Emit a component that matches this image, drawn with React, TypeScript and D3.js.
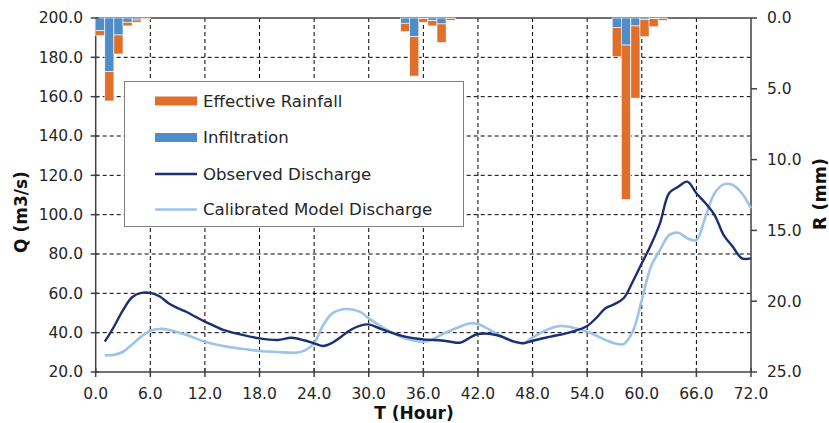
import React from 'react';
import * as d3 from 'd3';

// rainfall bars (hour at bar centre, mm)
const rainHours = [0.5, 1.5, 2.5, 3.5, 4.5, 5.5, 34, 35, 36, 37, 38, 39, 57.25, 58.25, 59.3, 60.3, 61.3, 62.3];
const infiltration = [0.9, 3.79, 1.2, 0.3, 0.14, 0.03, 0.37, 1.32, 0.05, 0.19, 0.42, 0.02, 0.66, 1.91, 0.56, 0.12, 0.05, 0.02];
const effectiveRain = [0.35, 2.07, 1.34, 0.26, 0.16, 0.06, 0.59, 2.78, 0.25, 0.37, 1.31, 0.14, 2.08, 10.9, 5.1, 1.2, 0.57, 0.15];

// observed discharge
const obsHours = [1, 2, 3, 4, 5, 6, 7, 8, 9, 10, 11, 12, 13, 14, 16, 18, 20, 21.5, 23, 24, 25, 26, 27, 28, 29, 30, 31, 32, 34, 36, 38, 39, 40, 42, 44, 46, 47, 48, 50, 52, 54, 55, 56, 57, 58, 59, 60, 61, 62, 63, 64, 65, 66, 67, 68, 69, 70, 71, 72];
const obsQ = [35.4, 43, 51.5, 58, 60.2, 60.2, 58.5, 55, 52.5, 50.5, 48, 45.6, 43.5, 41.4, 39, 37.1, 36.3, 37.4, 36, 34.6, 33.2, 34.9, 38, 41.4, 43.5, 44.2, 42.5, 40.8, 38, 36.6, 36, 35.4, 34.9, 39.3, 38.8, 35.4, 34.6, 35.9, 38, 40, 43.4, 47.5, 52.4, 54.5, 57.5, 65.9, 75.3, 84.6, 95.6, 110.9, 114.2, 116.8, 110.9, 105.8, 99.8, 89.6, 83.7, 77.8, 77.8];

// calibrated model discharge
const calHours = [1, 2, 3, 4, 5, 6, 7, 8, 10, 12, 14, 16, 18, 20, 22, 23, 24, 25, 26, 27.5, 29, 30, 32, 34, 36, 37, 38, 40, 41, 42, 44, 46, 47, 48, 50, 51, 52, 54, 56, 57, 58, 59, 60, 61, 62, 63, 64, 65, 66, 67, 68, 69, 70, 71, 72];
const calQ = [28.6, 28.7, 30.3, 34, 38, 41, 41.9, 41.5, 38.8, 35.4, 33.2, 31.8, 30.7, 30.2, 29.8, 31, 34.6, 43.9, 49.8, 52, 50.7, 47.3, 41.4, 37.1, 35.4, 36.5, 39, 43, 44.7, 44.4, 39.6, 35.4, 34.7, 37.6, 42.2, 43.4, 43, 40.5, 36.3, 34.6, 34.2, 40.5, 56.6, 73.5, 82, 89.6, 90.8, 88, 87.1, 99, 110.9, 115.4, 115.1, 110.9, 103.2];

const xTicks = [0, 6, 12, 18, 24, 30, 36, 42, 48, 54, 60, 66, 72];
const qTicks = [20, 40, 60, 80, 100, 120, 140, 160, 180, 200];
const rTicks = [0, 5, 10, 15, 20, 25];
const legendItems = ['Effective Rainfall', 'Infiltration', 'Observed Discharge', 'Calibrated Model Discharge'];

const ORANGE = '#DF6F2A';
const BLUE = '#4F8DC9';
const OBS = '#1B2F72';
const CAL = '#9CC3E8';
const AXIS = '#404040';
const FONT = 'DejaVu Sans, Verdana, sans-serif';

export default function App() {
  const width = 829, height = 423;
  const left = 95.7, right = 751, top = 18, bottom = 372;

  const x = d3.scaleLinear().domain([0, 72]).range([left, right]);
  const yQ = d3.scaleLinear().domain([20, 200]).range([bottom, top]);
  const yR = d3.scaleLinear().domain([0, 25]).range([top, bottom]);
  const barW = x(1) - x(0);

  const obsLine = d3.line<number>()
    .x((d, i) => x(obsHours[i]))
    .y(d => yQ(d))
    .curve(d3.curveCatmullRom.alpha(0.5));
  const calLine = d3.line<number>()
    .x((d, i) => x(calHours[i]))
    .y(d => yQ(d))
    .curve(d3.curveCatmullRom.alpha(0.5));

  const gridStyle = { stroke: '#000', strokeWidth: 1, strokeDasharray: '4,3' };

  let bars: any[] = [];
  rainHours.forEach((h, i) => {
    let x0 = x(h) - barW / 2;
    bars.push(<rect key={'i' + i} x={x0} y={yR(0)} width={barW} height={yR(infiltration[i]) - yR(0)} fill={BLUE} stroke="#fff" strokeWidth={0.6} />);
    bars.push(<rect key={'e' + i} x={x0} y={yR(infiltration[i])} width={barW} height={yR(infiltration[i] + effectiveRain[i]) - yR(infiltration[i])} fill={ORANGE} stroke="#fff" strokeWidth={0.6} />);
  });

  const legX = 124.5, legY = 81.5, legW = 339, legH = 145;
  const rowY = [101, 137.5, 174, 209.5];

  return (
    <div style={{ position: 'absolute', left: 0, top: 0 }}>
      <svg width={width} height={height} style={{ display: 'block', background: '#fff' }} fontFamily={FONT}>
        {/* grid */}
        <g>
          {xTicks.slice(1, -1).map(t => (
            <line key={'gx' + t} x1={x(t)} x2={x(t)} y1={top} y2={bottom} style={gridStyle} />
          ))}
          {qTicks.slice(1, -1).map(t => (
            <line key={'gy' + t} x1={left} x2={right} y1={yQ(t)} y2={yQ(t)} style={gridStyle} />
          ))}
        </g>

        {/* frame + axes */}
        <line x1={left} x2={right} y1={top} y2={top} stroke={AXIS} strokeWidth={1.5} />
        <line x1={left} x2={left} y1={top} y2={bottom} stroke={AXIS} strokeWidth={1.5} />
        <line x1={right} x2={right} y1={top} y2={bottom} stroke={AXIS} strokeWidth={1.5} />
        <line x1={left} x2={right} y1={bottom} y2={bottom} stroke={AXIS} strokeWidth={1.5} />

        {/* rain bars */}
        <g>{bars}</g>

        {/* discharge lines */}
        <path d={calLine(calQ) || ''} fill="none" stroke={CAL} strokeWidth={2.6} />
        <path d={obsLine(obsQ) || ''} fill="none" stroke={OBS} strokeWidth={2.4} />

        {/* left axis */}
        <g>
          {qTicks.map(t => (
            <g key={'q' + t}>
              <line x1={left - 5} x2={left + 3} y1={yQ(t)} y2={yQ(t)} stroke={AXIS} strokeWidth={1.5} />
              <text x={83} y={yQ(t)} dy="0.35em" textAnchor="end" fontSize={15.5} fill="#262626">{t.toFixed(1)}</text>
            </g>
          ))}
        </g>

        {/* bottom axis */}
        <g>
          {xTicks.map(t => (
            <g key={'x' + t}>
              <line x1={x(t)} x2={x(t)} y1={bottom - 4} y2={bottom + 5} stroke={AXIS} strokeWidth={1.5} />
              <text x={x(t)} y={398.5} textAnchor="middle" fontSize={15.5} fill="#262626">{t.toFixed(1)}</text>
            </g>
          ))}
        </g>

        {/* right axis */}
        <g>
          {rTicks.map(t => (
            <g key={'r' + t}>
              <line x1={right} x2={right + 6} y1={yR(t)} y2={yR(t)} stroke={AXIS} strokeWidth={1.5} />
              <text x={767} y={yR(t)} dy="0.35em" textAnchor="start" fontSize={15.5} fill="#262626">{t.toFixed(1)}</text>
            </g>
          ))}
        </g>

        {/* axis titles */}
        <text x={414} y={418.5} textAnchor="middle" fontSize={17} fontWeight="bold" fill="#111">T (Hour)</text>
        <text transform="translate(27,212) rotate(-90)" textAnchor="middle" fontSize={17} fontWeight="bold" fill="#111">Q (m3/s)</text>
        <text transform="translate(826,194) rotate(-90)" textAnchor="middle" fontSize={17.5} fontWeight="bold" fill="#111">R (mm)</text>

        {/* legend */}
        <g>
          <rect x={legX} y={legY} width={legW} height={legH} fill="#fff" stroke="#7f7f7f" strokeWidth={1} />
          <rect x={155} y={rowY[0] - 4.5} width={42} height={9} fill={ORANGE} />
          <rect x={155} y={rowY[1] - 4.5} width={42} height={9} fill={BLUE} />
          <line x1={155} x2={197} y1={rowY[2]} y2={rowY[2]} stroke={OBS} strokeWidth={2.6} />
          <line x1={155} x2={197} y1={rowY[3]} y2={rowY[3]} stroke={CAL} strokeWidth={2.6} />
          {legendItems.map((l, i) => (
            <text key={l} x={203} y={rowY[i]} dy="0.35em" fontSize={16.6} fill="#262626">{l}</text>
          ))}
        </g>
      </svg>
    </div>
  );
}
